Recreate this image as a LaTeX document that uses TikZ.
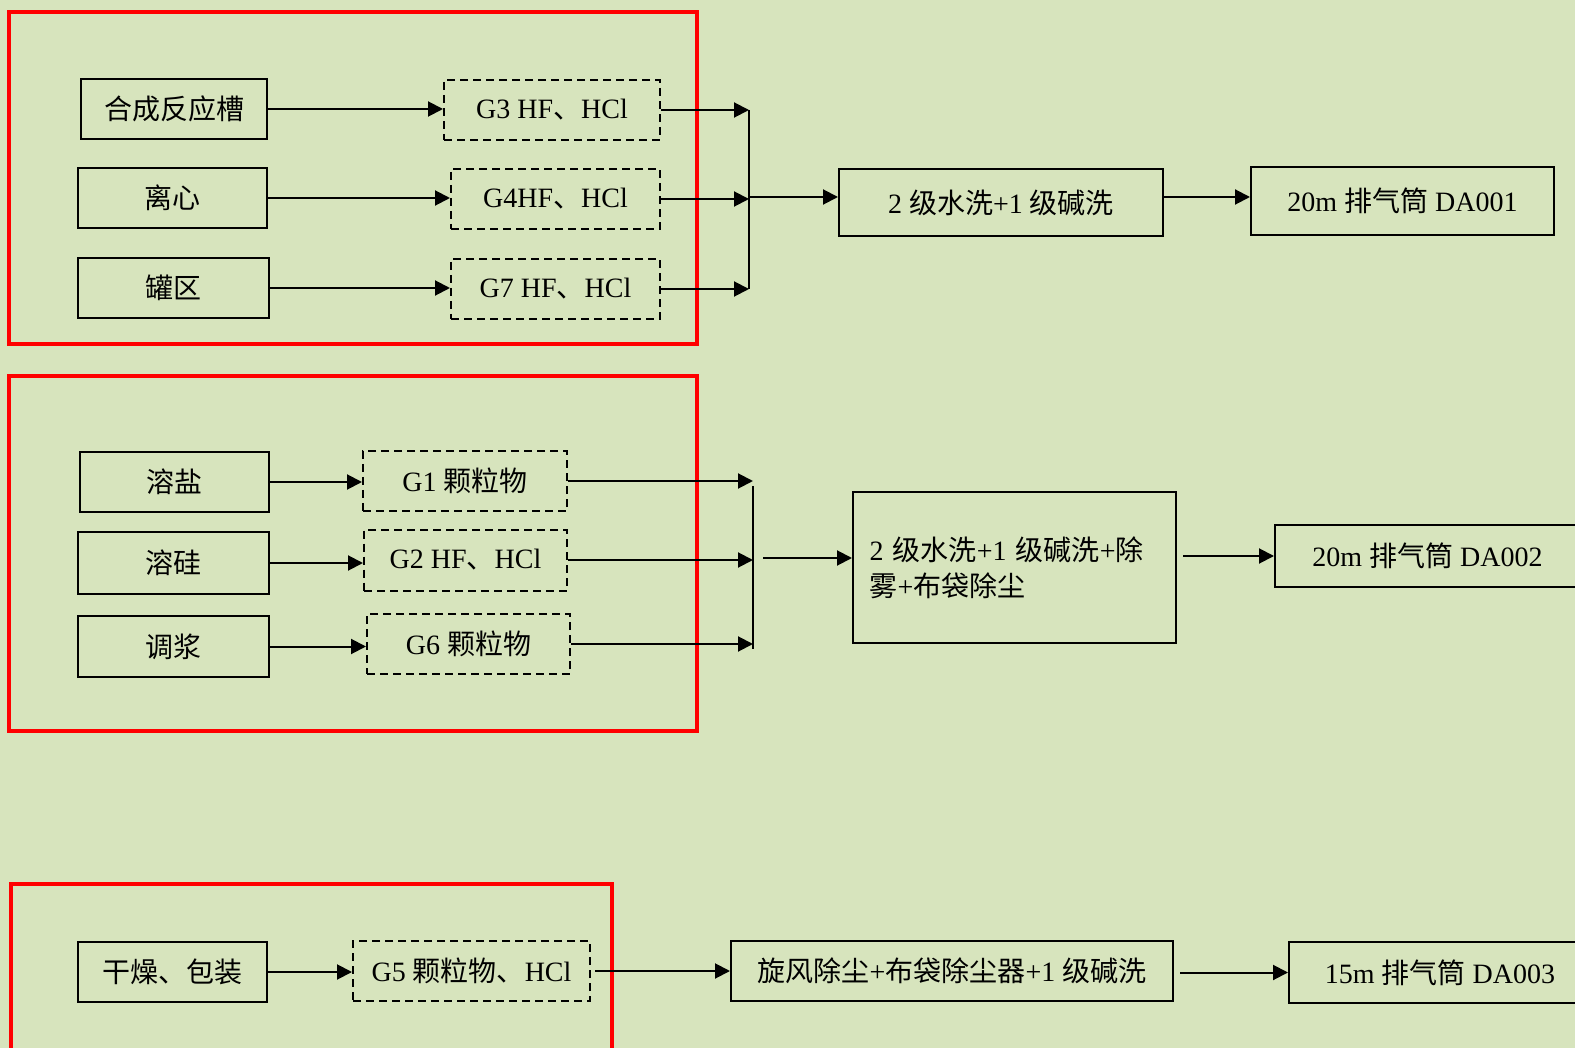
\documentclass[tikz,border=0pt]{standalone}
\usepackage{fontspec}
\setmainfont{Liberation Serif}
\newfontfamily\cjk{Noto Sans CJK SC}
\newcommand{\zh}[1]{{\cjk #1}}
\usetikzlibrary{arrows.meta,positioning}
\definecolor{bggreen}{HTML}{D7E4BD}
\definecolor{framered}{HTML}{FF0000}

\begin{document}
\begin{tikzpicture}[
    x=1pt, y=-1pt,
    every node/.style={font=\fontsize{28}{36}\selectfont},
    procbox/.style={rectangle, draw=black, line width=2pt, text centered,
                    minimum height=60pt, inner sep=0pt},
    gasbox/.style={rectangle, draw=black, line width=2pt, dash pattern=on 8pt off 5pt,
                   text centered, minimum height=60pt, inner sep=0pt},
    treatbox/.style={rectangle, draw=black, line width=2pt, text centered,
                     minimum height=62pt, inner sep=0pt},
    stackbox/.style={rectangle, draw=black, line width=2pt, text centered,
                     minimum height=66pt, inner sep=0pt},
    zonebox/.style={draw=framered, line width=3.5pt},
    arr/.style={-{Triangle[length=15pt,width=15pt]}, line width=2pt, draw=black},
    bar/.style={line width=2pt, draw=black},
]

% background and page size
\fill[bggreen] (0,0) rectangle (1575,1048);
\useasboundingbox (0,0) rectangle (1575,1048);

% red frames
\draw[zonebox] (9,12)  rectangle (697,344);
\draw[zonebox] (9,376) rectangle (697,731);
\draw[zonebox] (11,884) rectangle (612,1070);

% group 1
\node[procbox, minimum width=186pt] (hc)  at (174,109) {\zh{合成反应槽}};
\node[procbox, minimum width=189pt] (lx)  at (172.5,198) {\zh{离心}};
\node[procbox, minimum width=191pt] (gq)  at (173.5,288) {\zh{罐区}};
\node[gasbox, minimum width=216pt]  (g3)  at (552,110) {G3 HF\zh{、}HCl};
\node[gasbox, minimum width=209pt]  (g4)  at (555.5,199) {G4HF\zh{、}HCl};
\node[gasbox, minimum width=209pt]  (g7)  at (555.5,289) {G7 HF\zh{、}HCl};
\coordinate (m1) at (749,197);
\node[treatbox, minimum width=324pt, minimum height=67pt] (w1) at (1001,202.5)
    {2 \zh{级水洗}+1 \zh{级碱洗}};
\node[stackbox, minimum width=303pt, minimum height=68pt] (da1) at (1402.5,201)
    {20m \zh{排气筒} DA001};

\draw[arr] (hc.east) -- (hc.east -| g3.west);
\draw[arr] (lx.east) -- (lx.east -| g4.west);
\draw[arr] (gq.east) -- (gq.east -| g7.west);
\draw[arr] (g3.east) -- (g3.east -| m1);
\draw[arr] (g4.east) -- (g4.east -| m1);
\draw[arr] (g7.east) -- (g7.east -| m1);
\draw[bar] (g3.east -| m1) -- (g7.east -| m1);
\draw[arr] (m1) -- (m1 -| w1.west);
\draw[arr] (w1.east |- m1) -- (m1 -| da1.west);

% group 2
\node[procbox, minimum width=189pt] (ry)  at (174.5,482) {\zh{溶盐}};
\node[procbox, minimum width=191pt, minimum height=62pt] (rg) at (173.5,563) {\zh{溶硅}};
\node[procbox, minimum width=191pt, minimum height=61pt] (tj) at (173.5,646.5) {\zh{调浆}};
\node[gasbox, minimum width=204pt]  (g1)  at (465,481) {G1 \zh{颗粒物}};
\node[gasbox, minimum width=203pt, minimum height=61pt] (g2) at (465.5,560) {G2 HF\zh{、}HCl};
\node[gasbox, minimum width=203pt]  (g6)  at (468.5,644) {G6 \zh{颗粒物}};
\coordinate (m2t) at (753,486);
\coordinate (m2b) at (753,649);
\coordinate (m2o) at (763,558);
\node[treatbox, minimum width=323pt, minimum height=151pt, text width=290pt,
      align=left] (w2) at (1014.5,567.5)
    {2 \zh{级水洗}+1 \zh{级碱洗}+\zh{除}\\\zh{雾}+\zh{布袋除尘}};
\node[stackbox, minimum width=305pt, minimum height=62pt] (da2) at (1427.5,556)
    {20m \zh{排气筒} DA002};

\draw[arr] (ry.east) -- (ry.east -| g1.west);
\draw[arr] (rg.east) -- (rg.east -| g2.west);
\draw[arr] (tj.east) -- (tj.east -| g6.west);
\draw[arr] (g1.east) -- (g1.east -| m2t);
\draw[arr] (g2.east) -- (g2.east -| m2t);
\draw[arr] (g6.east) -- (g6.east -| m2t);
\draw[bar] (m2t) -- (m2b);
\draw[arr] (m2o) -- (m2o -| w2.west);
\draw[arr] ([xshift=6pt]w2.east |- da2.west) -- (da2.west);

% group 3
\node[procbox, minimum width=189pt] (gz)  at (172.5,972) {\zh{干燥、包装}};
\node[gasbox, minimum width=237pt]  (g5)  at (471.5,971) {G5 \zh{颗粒物、}HCl};
\node[treatbox, minimum width=442pt, minimum height=60pt] (xf) at (952,971)
    {\zh{旋风除尘}+\zh{布袋除尘器}+1 \zh{级碱洗}};
\node[stackbox, minimum width=302pt, minimum height=61pt] (da3) at (1440,972.5)
    {15m \zh{排气筒} DA003};

\draw[arr] (gz.east) -- (gz.east -| g5.west);
\draw[arr] ([xshift=4pt]g5.east) -- (g5.east -| xf.west);
\draw[arr] ([xshift=6pt]xf.east |- da3.west) -- (da3.west);

\end{tikzpicture}
\end{document}
